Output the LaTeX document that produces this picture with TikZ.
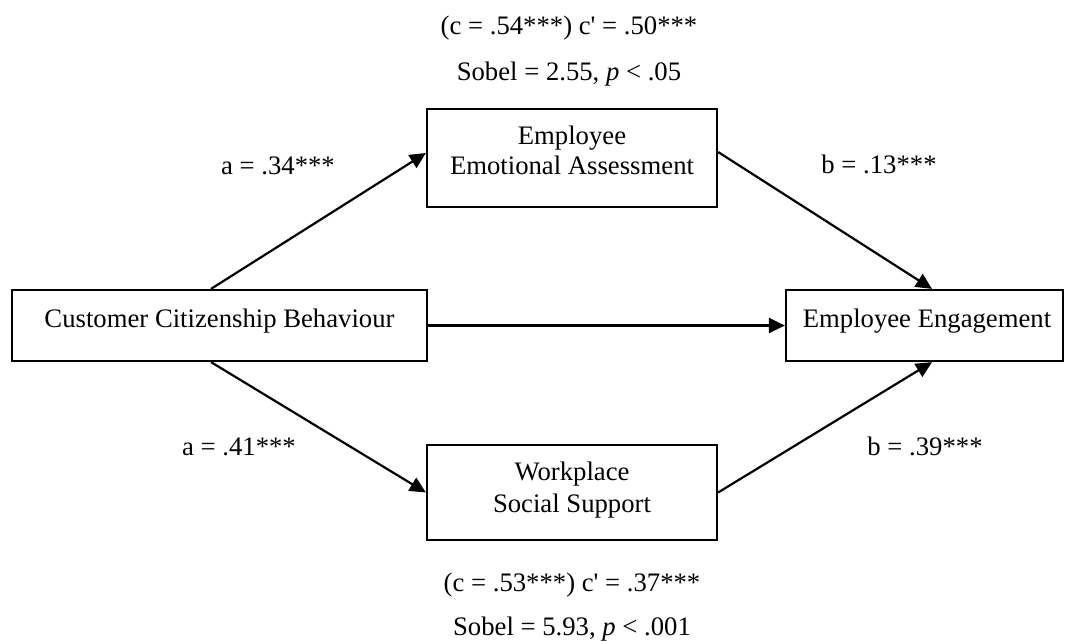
\documentclass[tikz,border=0pt]{standalone}
\usepackage{fontspec}
\setmainfont{Liberation Serif}
\usetikzlibrary{arrows.meta}
\begin{document}
\begin{tikzpicture}[x=0.5pt,y=-0.5pt,
  box/.style={draw, line width=1.1pt, inner sep=0pt},
  txt/.style={anchor=base, inner sep=0pt, font=\fontsize{13.35pt}{15pt}\selectfont},
  conn/.style={line width=1.1pt, -{Triangle[length=8pt,width=7.5pt]}}]
\useasboundingbox (0,0) rectangle (1065,642);
% boxes
\node[box, minimum width=207.5pt, minimum height=35.5pt] (ccb) at (219.5,325.5) {};
\node[box, minimum width=138.5pt, minimum height=35.5pt] (ee) at (924.5,325.5) {};
\node[box, minimum width=145pt, minimum height=49pt] (eea) at (572,158) {};
\node[box, minimum width=145pt, minimum height=47.5pt] (wss) at (572,492.5) {};
% box texts
\node[txt] (ccbt) at (219.5,327) {Customer Citizenship Behaviour};
\node[txt] (eet) at (927,327) {Employee Engagement};
\node[txt] (eeat1) at (572,145) {Employee};
\node[txt] (eeat2) at (572,175) {Emotional Assessment};
\node[txt] (wsst1) at (572,480) {Workplace};
\node[txt] (wsst2) at (572,512) {Social Support};
% connectors
\draw[conn] ([xshift=-4.25pt]ccb.north) -- ([yshift=2.5pt]eea.west);
\draw[conn] ([yshift=3pt]eea.east) -- ([xshift=3.75pt]ee.north);
\draw[conn] (ccb.east) -- (ee.west);
\draw[conn] ([xshift=-4.25pt]ccb.south) -- (wss.west);
\draw[conn] (wss.east) -- ([xshift=3.75pt]ee.south);
% path labels
\node[txt] (la1) at (278,175) {a = .34***};
\node[txt] (lb1) at (879,173) {b = .13***};
\node[txt] (la2) at (239,455) {a = .41***};
\node[txt] (lb2) at (925,455) {b = .39***};
% effect statistics
\node[txt] (top1) at (569,35) {(c = .54***) c\textquotesingle{} = .50***};
\node[txt] (top2) at (569,81) {Sobel = 2.55, \textit{p} < .05};
\node[txt] (bot1) at (572,591) {(c = .53***) c\textquotesingle{} = .37***};
\node[txt] (bot2) at (572,635) {Sobel = 5.93, \textit{p} < .001};
\end{tikzpicture}
\end{document}
